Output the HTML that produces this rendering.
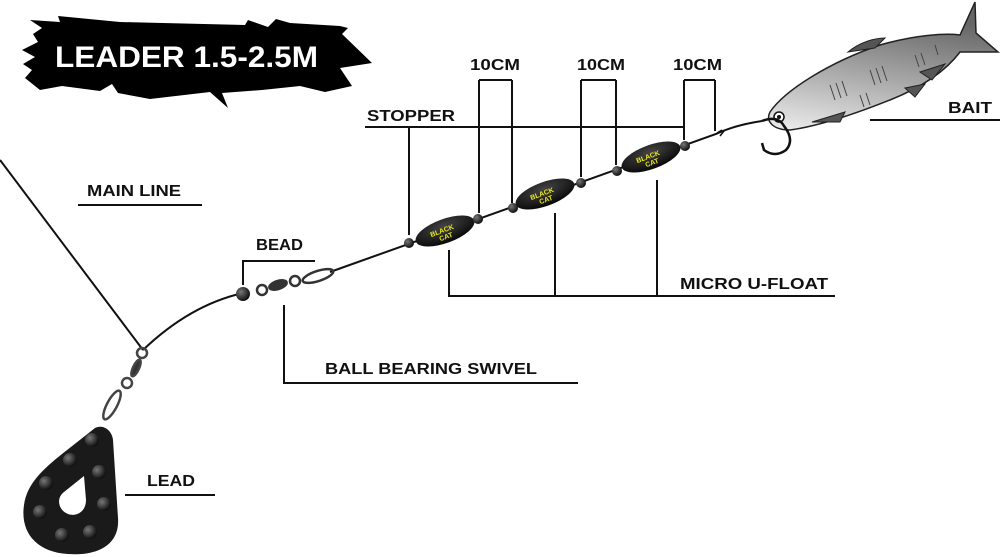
<!DOCTYPE html>
<html><head><meta charset="utf-8"><style>
html,body{margin:0;padding:0;background:#fff;}
svg{display:block;}
.l{font-family:"Liberation Sans",sans-serif;font-weight:bold;font-size:16px;fill:#111;}
</style></head><body>
<svg width="1000" height="557" viewBox="0 0 1000 557" xmlns="http://www.w3.org/2000/svg">
<defs>
<radialGradient id="bd" cx="35%" cy="35%" r="65%"><stop offset="0" stop-color="#777"/><stop offset="1" stop-color="#111"/></radialGradient>
<radialGradient id="fl" cx="50%" cy="30%" r="70%"><stop offset="0" stop-color="#444"/><stop offset="1" stop-color="#080808"/></radialGradient>
<linearGradient id="fish" x1="0" y1="1" x2="0.3" y2="0"><stop offset="0" stop-color="#eee"/><stop offset="0.5" stop-color="#a9a9a9"/><stop offset="1" stop-color="#666"/></linearGradient>
</defs>
<polygon fill="#000" points="30,20 60,22 58,16 120,22 245,25 248,20 268,27 276,19 290,23 340,26 348,28 342,34 372,63 340,68 352,86 325,92 300,86 262,90 222,93 228,108 210,92 150,99 118,93 112,84 100,91 62,86 40,90 25,78 32,70 23,64 35,57 22,50 38,42 33,34 42,28"/>
<text x="55" y="67" fill="#fff" font-family="Liberation Sans,sans-serif" font-weight="bold" font-size="30" textLength="263" lengthAdjust="spacingAndGlyphs">LEADER 1.5-2.5M</text>
<path d="M0,160 L143,350" stroke="#111" stroke-width="2" fill="none"/>
<path d="M143,350 Q190,305 243,293" stroke="#111" stroke-width="2" fill="none"/>
<path d="M330,272 L716,134 Q735,125 762,121" stroke="#111" stroke-width="2" fill="none"/>
<g stroke="#333" stroke-width="2.5" fill="none">
<circle cx="262" cy="290" r="5"/>
<ellipse cx="278" cy="285" rx="9" ry="4" fill="#333" transform="rotate(-18 278 285)"/>
<circle cx="295" cy="281" r="5"/>
<ellipse cx="318" cy="276" rx="16" ry="5" transform="rotate(-18 318 276)"/>
</g>
<circle cx="243" cy="294" r="7" fill="url(#bd)"/>
<g stroke="#444" stroke-width="2.5" fill="none">
<circle cx="142" cy="353" r="5"/>
<ellipse cx="136" cy="368" rx="3" ry="9" fill="#333" transform="rotate(25 136 368)"/>
<circle cx="127" cy="383" r="5"/>
<ellipse cx="112" cy="405" rx="5" ry="16" transform="rotate(28 112 405)"/>
</g>
<path d="M95,428 C103,424 112,430 113,440 L118,518 C120,546 96,556 68,554 C36,552 20,532 24,505 C27,484 42,470 62,454 Z" fill="#1a1a1a"/>
<path d="M84,476 L86,500 C86,512 76,517 68,514 C58,510 56,498 64,492 Z" fill="#fff"/>
<g fill="url(#bd)">
<circle cx="92" cy="440" r="7"/><circle cx="70" cy="460" r="7"/><circle cx="46" cy="483" r="7"/><circle cx="99" cy="472" r="7"/>
<circle cx="40" cy="512" r="7"/><circle cx="104" cy="504" r="7"/><circle cx="62" cy="535" r="7"/><circle cx="90" cy="532" r="7"/>
</g>
<g fill="url(#fl)">
<ellipse cx="445" cy="231" rx="31" ry="12" transform="rotate(-20 445 231)"/>
<ellipse cx="545" cy="194" rx="31" ry="12" transform="rotate(-20 545 194)"/>
<ellipse cx="651" cy="157" rx="31" ry="12" transform="rotate(-20 651 157)"/>
</g>
<g font-family="Liberation Sans,sans-serif" font-weight="bold" font-size="7" fill="#e8e81a">
<text x="430" y="232" transform="rotate(-20 445 231)">BLACK</text><text x="437" y="239" transform="rotate(-20 445 231)">CAT</text>
<text x="530" y="195" transform="rotate(-20 545 194)">BLACK</text><text x="537" y="202" transform="rotate(-20 545 194)">CAT</text>
<text x="636" y="158" transform="rotate(-20 651 157)">BLACK</text><text x="643" y="165" transform="rotate(-20 651 157)">CAT</text>
</g>
<g fill="url(#bd)">
<circle cx="409" cy="243" r="5"/><circle cx="478" cy="219" r="5"/><circle cx="513" cy="208" r="5"/>
<circle cx="581" cy="183" r="5"/><circle cx="617" cy="171" r="5"/><circle cx="685" cy="146" r="5"/>
</g>
<path d="M717,133 l5,-3 M720,136 l4,-5" stroke="#111" stroke-width="1.5"/>
<!-- fish -->
<path d="M770,112 C785,90 830,62 880,45 C915,35 945,33 960,35 L975,2 L976,33 L998,52 L960,52 C945,72 920,88 890,100 C860,112 820,126 790,130 C774,130 765,122 770,112 Z" fill="url(#fish)" stroke="#222" stroke-width="1.5"/>
<path d="M848,52 C860,42 875,38 885,38 L875,48 Z M812,122 L845,112 L840,122 Z M905,88 L925,84 L915,97 Z M920,72 L945,64 L932,80 Z" fill="#555" stroke="#222"/>
<circle cx="779" cy="117" r="5" fill="#fff" stroke="#111" stroke-width="1.5"/><circle cx="779" cy="117" r="2" fill="#111"/>
<g stroke="#444" stroke-width="1"><path d="M830,85 l5,15 M836,83 l5,15 M842,81 l5,15 M870,70 l5,15 M876,68 l5,15 M882,66 l5,15 M860,95 l4,12 M866,93 l4,12 M915,55 l4,12 M921,53 l4,12 M935,45 l3,10"/></g>
<path d="M762,121 Q778,115 784,126 Q795,140 786,150 Q775,158 764,150 L762,143" stroke="#111" stroke-width="2.5" fill="none"/>
<g stroke="#111" stroke-width="2" fill="none">
<path d="M365,127 H685"/>
<path d="M409,127 V235"/>
<path d="M479,80 H512 M479,80 V213 M512,80 V203"/>
<path d="M581,80 H616 M581,80 V177 M616,80 V165"/>
<path d="M684,80 H715 M684,80 V140 M715,80 V131"/>
<path d="M449,250 V296 H835 M555,213 V296 M657,180 V296"/>
<path d="M243,285 V261 H315"/>
<path d="M284,305 V383 H578"/>
<path d="M78,205 H202"/>
<path d="M125,495 H215"/>
<path d="M870,120 H1000"/>
</g>
<text class="l" x="367" y="121" textLength="88" lengthAdjust="spacingAndGlyphs">STOPPER</text>
<text class="l" x="470" y="70" textLength="50" lengthAdjust="spacingAndGlyphs">10CM</text>
<text class="l" x="577" y="70" textLength="48" lengthAdjust="spacingAndGlyphs">10CM</text>
<text class="l" x="673" y="70" textLength="49" lengthAdjust="spacingAndGlyphs">10CM</text>
<text class="l" x="948" y="113" textLength="44" lengthAdjust="spacingAndGlyphs">BAIT</text>
<text class="l" x="87" y="196" textLength="94" lengthAdjust="spacingAndGlyphs">MAIN LINE</text>
<text class="l" x="256" y="250" textLength="47" lengthAdjust="spacingAndGlyphs">BEAD</text>
<text class="l" x="680" y="289" textLength="148" lengthAdjust="spacingAndGlyphs">MICRO U-FLOAT</text>
<text class="l" x="325" y="374" textLength="212" lengthAdjust="spacingAndGlyphs">BALL BEARING SWIVEL</text>
<text class="l" x="147" y="486" textLength="48" lengthAdjust="spacingAndGlyphs">LEAD</text>
</svg>
</body></html>
